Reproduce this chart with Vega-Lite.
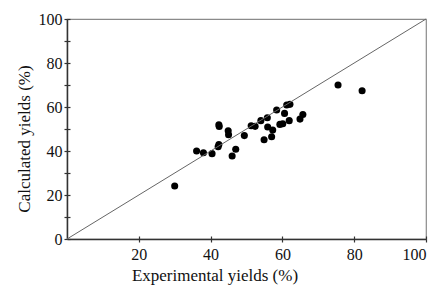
{
  "$schema": "https://vega.github.io/schema/vega-lite/v6.json",
  "width": 359,
  "height": 220,
  "autosize": "none",
  "padding": {"left": 67, "top": 19, "right": 11, "bottom": 50},
  "background": "#ffffff",
  "config": {
    "view": {"stroke": "#8a8a8a", "strokeWidth": 1.2},
    "font": "Liberation Serif",
    "axis": {
      "labelFont": "Liberation Serif",
      "titleFont": "Liberation Serif",
      "labelFontSize": 16,
      "titleFontSize": 17,
      "titleFontWeight": "normal",
      "labelColor": "#111111",
      "titleColor": "#111111",
      "domainColor": "#333333",
      "domainWidth": 1.5,
      "tickColor": "#333333",
      "tickWidth": 1.2,
      "grid": false
    }
  },
  "layer": [
    {
      "data": {"values": [
        {"x": 30.0, "y": 24.1},
        {"x": 36.1, "y": 40.0},
        {"x": 38.0, "y": 39.2},
        {"x": 40.4, "y": 38.8},
        {"x": 42.3, "y": 42.9},
        {"x": 42.1, "y": 41.9},
        {"x": 42.3, "y": 51.9},
        {"x": 42.4, "y": 51.1},
        {"x": 44.9, "y": 49.2},
        {"x": 45.0, "y": 47.4},
        {"x": 47.0, "y": 40.8},
        {"x": 46.0, "y": 37.7},
        {"x": 49.4, "y": 47.0},
        {"x": 51.3, "y": 51.5},
        {"x": 52.4, "y": 51.2},
        {"x": 54.0, "y": 53.8},
        {"x": 55.8, "y": 55.1},
        {"x": 55.9, "y": 50.9},
        {"x": 54.9, "y": 45.1},
        {"x": 57.0, "y": 46.5},
        {"x": 57.3, "y": 49.5},
        {"x": 58.4, "y": 58.6},
        {"x": 59.3, "y": 52.1},
        {"x": 60.1, "y": 52.4},
        {"x": 60.6, "y": 57.1},
        {"x": 61.2, "y": 60.9},
        {"x": 62.1, "y": 61.2},
        {"x": 61.9, "y": 53.8},
        {"x": 64.9, "y": 54.5},
        {"x": 65.7, "y": 56.6},
        {"x": 75.5, "y": 70.0},
        {"x": 82.2, "y": 67.4}
      ]},
      "mark": {"type": "point", "shape": "circle", "filled": true, "color": "#000000", "opacity": 1, "size": 50},
      "encoding": {
        "x": {
          "field": "x", "type": "quantitative",
          "scale": {"domain": [0, 100], "nice": false, "zero": false},
          "axis": {
            "orient": "bottom",
            "values": [20, 40, 60, 80, 100],
            "tickSize": 3,
            "labelPadding": 4,
            "title": "Experimental yields (%)",
            "titlePadding": 5,
            "titleX": 147.5
          }
        },
        "y": {
          "field": "y", "type": "quantitative",
          "scale": {"domain": [0, 100], "nice": false, "zero": false},
          "axis": {
            "orient": "left",
            "values": [0, 10, 20, 30, 40, 50, 60, 70, 80, 90, 100],
            "labelExpr": "datum.value % 20 == 0 ? datum.label : ''",
            "tickSize": 3,
            "labelPadding": 2,
            "title": "Calculated yields (%)",
            "titlePadding": 5,
            "titleY": 119.5
          }
        }
      }
    },
    {
      "data": {"values": [{"x": 0, "y": 0}, {"x": 100, "y": 100}]},
      "mark": {"type": "line", "color": "#666666", "strokeWidth": 1},
      "encoding": {
        "x": {
          "field": "x", "type": "quantitative",
          "axis": {"orient": "bottom", "values": [20, 40, 60, 80, 100], "tickSize": -3, "labels": false, "domain": false, "title": null}
        },
        "y": {
          "field": "y", "type": "quantitative",
          "axis": {"orient": "left", "values": [0, 10, 20, 30, 40, 50, 60, 70, 80, 90, 100], "tickSize": -3, "labels": false, "domain": false, "title": null}
        }
      }
    }
  ],
  "resolve": {"axis": {"x": "independent", "y": "independent"}}
}
